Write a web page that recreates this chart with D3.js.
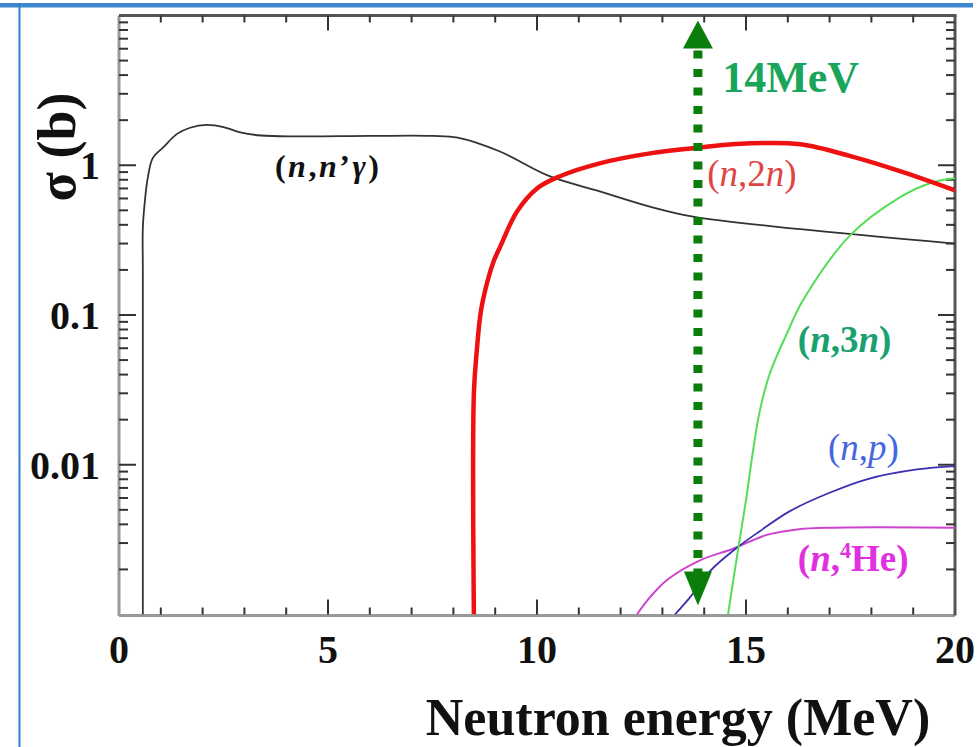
<!DOCTYPE html>
<html>
<head>
<meta charset="utf-8">
<script src="https://cdn.jsdelivr.net/npm/d3@7"></script>
<style>
  body { margin: 0; background: #fff; }
  svg { display: block; }
  text { font-family: "Liberation Serif", "Times New Roman", serif; }
</style>
</head>
<body>
<svg id="chart" width="979" height="747"></svg>
<script>
// x ticks (MeV) and labelled decades
const xTickLabels = [0, 5, 10, 15, 20];
const yTickLabels = [0.01, 0.1, 1];

// cross sections, [energy MeV, sigma b]
const nnGamma = [[0.57, 0.001], [0.57, 0.2], [0.57, 0.38], [0.62, 0.58], [0.69, 0.83], [0.81, 1.12],
  [1.05, 1.31], [1.39, 1.62], [1.7, 1.78], [2.1, 1.86], [2.5, 1.80], [2.9, 1.66], [3.4, 1.58],
  [4.3, 1.56], [6, 1.57], [7.5, 1.57], [8.1, 1.53], [9.1, 1.24], [10.3, 0.845], [11.5, 0.67],
  [12.7, 0.53], [13.7, 0.456], [16.3, 0.374], [20, 0.30]];
const n2n = [[8.49, 0.001], [8.49, 0.03], [8.56, 0.058], [8.66, 0.107], [8.82, 0.17], [8.97, 0.231],
  [9.12, 0.286], [9.52, 0.49], [10.0, 0.70], [10.55, 0.845], [11.5, 1.03], [12.7, 1.20], [13.73, 1.30],
  [15.1, 1.40], [16.3, 1.38], [17.5, 1.15], [18.7, 0.91], [20, 0.68]];
const n3n = [[14.57, 0.001], [14.78, 0.0024], [15.0, 0.0058], [15.17, 0.0125], [15.33, 0.0229],
  [15.57, 0.0407], [15.98, 0.0753], [16.36, 0.125], [17.49, 0.34],
  [18.68, 0.61], [19.47, 0.77], [20, 0.82]];
const np = [[13.3, 0.001], [13.66, 0.0013], [14.14, 0.00195], [14.79, 0.0028], [15.33, 0.0036],
  [16.05, 0.0049], [16.94, 0.0064], [17.89, 0.0080], [19.09, 0.0093], [20, 0.0098]];
const nHe = [[12.39, 0.001], [12.7, 0.0013], [13.11, 0.0017], [13.9, 0.0023], [14.69, 0.00275],
  [15.5, 0.0034], [16.22, 0.0037], [17.1, 0.0038], [20, 0.0038]];

// the 14 MeV marker: energy, bottom and top tip
const arrowE = 13.85;
const arrowSpan = [0.00115, 9.26];

const svg = d3.select('#chart');
const W = 979, H = 747;
const pL = 119, pR = 955, pT = 15.5, pB = 614.5;

const x = d3.scaleLinear().domain([0, 20]).range([pL, pR]);
const y = d3.scaleLog().domain([0.001, 10]).range([pB, pT]);

// page frame (blue screenshot border)
svg.append('rect').attr('x', 0).attr('y', 3).attr('width', 973).attr('height', 4.5).attr('fill', '#3d87cf');
svg.append('rect').attr('x', 18.5).attr('y', 3).attr('width', 2).attr('height', H).attr('fill', '#2f82d2');

svg.append('clipPath').attr('id', 'plot')
  .append('rect').attr('x', pL).attr('y', pT).attr('width', pR - pL).attr('height', pB - pT);

// axes frame
const frame = svg.append('g');
frame.append('line').attr('x1', pL).attr('x2', pL).attr('y1', pT).attr('y2', pB + 1.5)
  .attr('stroke', '#999').attr('stroke-width', 3);
frame.append('line').attr('x1', pL).attr('x2', pR).attr('y1', pB + 1).attr('y2', pB + 1)
  .attr('stroke', '#999').attr('stroke-width', 3);
frame.append('line').attr('x1', pL).attr('x2', pR + 1.5).attr('y1', pT).attr('y2', pT)
  .attr('stroke', '#555').attr('stroke-width', 3);
frame.append('line').attr('x1', pR).attr('x2', pR).attr('y1', pT).attr('y2', pB + 1)
  .attr('stroke', '#555').attr('stroke-width', 3);

// inward ticks
const minorX = d3.range(1, 20);
const ticks = svg.append('g').attr('stroke', '#333').attr('stroke-width', 2);
minorX.forEach(v => {
  const len = v % 5 === 0 ? 15 : 7;
  ticks.append('line').attr('x1', x(v)).attr('x2', x(v)).attr('y1', pB).attr('y2', pB - len);
  ticks.append('line').attr('x1', x(v)).attr('x2', x(v)).attr('y1', pT).attr('y2', pT + len);
});
y.ticks().forEach(v => {
  if (v <= 0.001 || v >= 10) return;
  const major = Math.abs(Math.log10(v) - Math.round(Math.log10(v))) < 1e-6;
  const len = major ? 17 : 9;
  ticks.append('line').attr('x1', pL).attr('x2', pL + len).attr('y1', y(v)).attr('y2', y(v));
  ticks.append('line').attr('x1', pR).attr('x2', pR - len).attr('y1', y(v)).attr('y2', y(v));
});

// tick labels
svg.append('g').selectAll('text').data(xTickLabels).join('text')
  .attr('x', d => x(d)).attr('y', 663).attr('text-anchor', 'middle')
  .attr('font-size', 40).attr('font-weight', 'bold').attr('fill', '#111')
  .text(d => d);
svg.append('g').selectAll('text').data(yTickLabels).join('text')
  .attr('x', 100).attr('y', d => y(d) + 14).attr('text-anchor', 'end')
  .attr('font-size', 40).attr('font-weight', 'bold').attr('fill', '#111')
  .text(d => d);

// axis titles
svg.append('text').attr('x', 678).attr('y', 735).attr('text-anchor', 'middle')
  .attr('font-size', 52).attr('font-weight', 'bold').attr('fill', '#111')
  .text('Neutron energy (MeV)');
svg.append('text').attr('transform', 'translate(75,147) rotate(-90)').attr('text-anchor', 'middle')
  .attr('font-size', 54).attr('font-weight', 'bold').attr('fill', '#111')
  .text('σ (b)');

// curves
const line = d3.line().x(d => x(d[0])).y(d => y(d[1])).curve(d3.curveCatmullRom.alpha(0.5));
const curves = svg.append('g').attr('clip-path', 'url(#plot)').attr('fill', 'none');
[
  { data: nnGamma, color: '#333', width: 1.8 },
  { data: nHe, color: '#cc44cc', width: 2 },
  { data: np, color: '#3a30b0', width: 1.8 },
  { data: n3n, color: '#55dd55', width: 2 },
  { data: n2n, color: '#ee1111', width: 4.5 },
].forEach(s => {
  curves.append('path').attr('d', line(s.data)).attr('stroke', s.color)
    .attr('stroke-width', s.width).attr('stroke-linejoin', 'round');
});

// dotted 14 MeV arrow
const ax = x(arrowE);
const yb = y(arrowSpan[0]), yt = y(arrowSpan[1]);
const headH = 28, headW = 15;
svg.append('line').attr('x1', ax).attr('x2', ax).attr('y1', yt + headH + 2).attr('y2', yb - headH - 2)
  .attr('stroke', '#0b7d0b').attr('stroke-width', 9).attr('stroke-dasharray', '8 10.5');
svg.append('path').attr('fill', '#0b7d0b')
  .attr('d', `M${ax},${yt} L${ax + headW},${yt + headH} L${ax - headW},${yt + headH} Z`);
svg.append('path').attr('fill', '#0b7d0b')
  .attr('d', `M${ax},${yb} L${ax + headW - 1},${yb - headH - 6} L${ax - headW + 1},${yb - headH - 6} Z`);

svg.append('text').attr('x', x(14.43)).attr('y', y(3.1))
  .attr('font-size', 44).attr('font-weight', 'bold').attr('fill', '#1aa65a')
  .text('14MeV');

// reaction labels
function reaction(parts, e, s, color, size, weight, len) {
  const t = svg.append('text').attr('x', x(e)).attr('y', y(s))
    .attr('font-size', size).attr('font-weight', weight).attr('fill', color);
  if (len) t.attr('textLength', len).attr('lengthAdjust', 'spacing');
  parts.forEach(p => {
    const ts = t.append('tspan').text(p.t);
    if (p.i) ts.attr('font-style', 'italic');
    if (p.sup) ts.attr('font-size', size * 0.6).attr('dy', -size * 0.35);
    if (p.down) ts.attr('dy', size * 0.35);
  });
}
reaction([{ t: '(' }, { t: 'n', i: 1 }, { t: ',' }, { t: 'n', i: 1 }, { t: '’' }, { t: 'γ', i: 1 }, { t: ')' }],
  3.73, 0.83, '#111', 32, 'bold', 104);
reaction([{ t: '(' }, { t: 'n', i: 1 }, { t: ',2' }, { t: 'n', i: 1 }, { t: ')' }],
  14.07, 0.73, '#e04545', 37, 'normal');
reaction([{ t: '(' }, { t: 'n', i: 1 }, { t: ',3' }, { t: 'n', i: 1 }, { t: ')' }],
  16.24, 0.057, '#1ba070', 37, 'bold');
reaction([{ t: '(' }, { t: 'n', i: 1 }, { t: ',' }, { t: 'p', i: 1 }, { t: ')' }],
  16.96, 0.0108, '#4466e0', 37, 'normal');
reaction([{ t: '(' }, { t: 'n', i: 1 }, { t: ',' }, { t: '4', sup: 1 }, { t: 'He', down: 1 }, { t: ')' }],
  16.24, 0.00194, '#e030e0', 37, 'bold');
</script>
</body>
</html>
